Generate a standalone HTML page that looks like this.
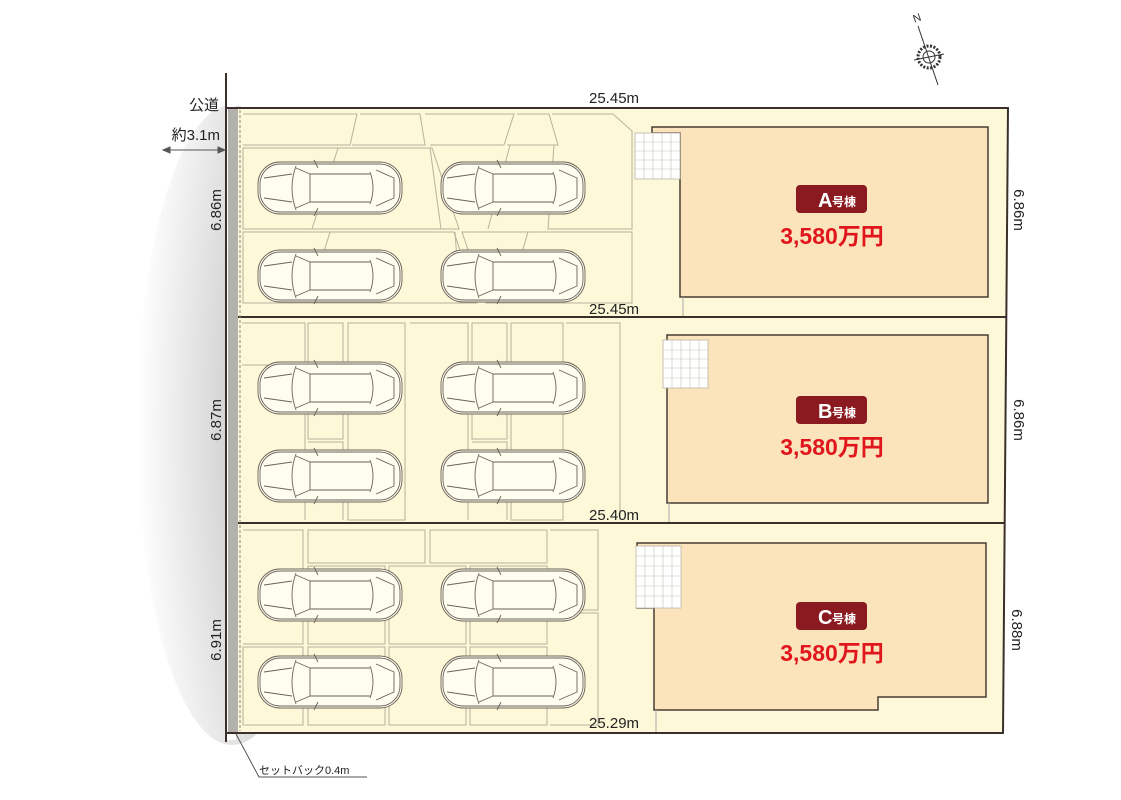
<!DOCTYPE html>
<html><head><meta charset="utf-8"><style>
html,body{margin:0;padding:0;background:#fff;}
svg{display:block;}
text{font-family:"Liberation Sans","Noto Sans CJK JP",sans-serif;}
</style></head><body>
<svg width="1121" height="800" viewBox="0 0 1121 800" xmlns="http://www.w3.org/2000/svg">
<defs>
<radialGradient id="sh" cx="1" cy="0.5" r="1" fx="1" fy="0.5">
<stop offset="0" stop-color="#a9a9a9"/><stop offset="0.55" stop-color="#d6d6d6"/><stop offset="1" stop-color="#ffffff"/>
</radialGradient>
<g id="car" fill="none" stroke="#6b6358" stroke-width="0.9">
<rect x="0" y="0" width="144" height="52" rx="22" fill="#fffdf0"/>
<rect x="2" y="2" width="140" height="48" rx="20"/>
<path d="M38 4 Q30 26 38 48"/>
<path d="M38 6 L52 12 L52 40 L38 46"/>
<path d="M52 12 L112 12 M52 40 L112 40"/>
<path d="M112 10 Q118 26 112 42"/>
<path d="M118 8 L136 16 L136 36 L118 44"/>
<path d="M6 16 L34 12 M6 36 L34 40"/>
<path d="M56 -2 L60 6 M56 54 L60 46"/>
</g>
</defs>
<rect width="1121" height="800" fill="#fff"/>
<ellipse cx="232" cy="425" rx="95" ry="320" fill="url(#sh)"/>
<rect x="226" y="100" width="10" height="640" fill="#fff"/>
<polygon points="236,108 1008,108 1003,733 236,733" fill="#fdf8d8" stroke="#3a2f2a" stroke-width="2"/>
<line x1="228" y1="317" x2="1006" y2="317" stroke="#3a2f2a" stroke-width="2"/>
<line x1="228" y1="523" x2="1005" y2="523" stroke="#3a2f2a" stroke-width="2"/>
<rect x="228" y="108" width="10" height="625" fill="#b3b1ac"/>
<line x1="240" y1="110" x2="240" y2="731" stroke="#8a857c" stroke-width="1" stroke-dasharray="3,2"/>
<line x1="226" y1="73" x2="226" y2="742" stroke="#3a2f2a" stroke-width="2"/>
<line x1="226" y1="108" x2="1008" y2="108" stroke="#3a2f2a" stroke-width="2"/>
<line x1="226" y1="733" x2="1003" y2="733" stroke="#3a2f2a" stroke-width="2"/>
<g fill="none" stroke="#b8b29c" stroke-width="1">
<path d="M243 114 H357 L350 145 H243 M360 114 H420 L425 145 H352 M425 114 H514 L504 145 H430 M517 114 H549 L558 145 H507 M552 114 H613 L632 131 V229 H548 L554 145"/>
<path d="M243 148 H432 L459 229 H243 Z M243 232 H454 L477 303 H243 Z M462 232 H632 V303 H486 Z"/>
<path d="M330 232 L308 303 M338 148 L312 229 M510 145 L488 229 M528 232 L507 303 M455 232 L460 303 M430 148 L441 229"/>
</g>
<g fill="none" stroke="#b8b29c" stroke-width="1">
<path d="M242 323 H305 V520 M308 323 H343 V439 H308 Z M348 323 H405 V520 H348 Z M410 323 H468 V520 M472 323 H507 V439 H472 Z M511 323 H563 V520 H511 Z M566 323 H620 V520"/>
<path d="M308 442 H343 V520 M472 442 H507 V520 M242 365 H300"/>
</g>
<g fill="none" stroke="#b8b29c" stroke-width="1">
<path d="M243 530 H303 V644 H243 M308 530 H425 V563 H308 Z M430 530 H547 V563 H430 Z M550 530 H598 V610 H550 M550 613 H598 V725 H550"/>
<path d="M308 566 H385 V644 H308 Z M389 566 H466 V644 H389 Z M470 566 H547 V644 H470 Z"/>
<path d="M243 647 H303 V725 H243 Z M308 647 H385 V725 H308 Z M389 647 H466 V725 H389 Z M470 647 H547 V725 H470 Z"/>
</g>
<use href="#car" x="258" y="162"/><use href="#car" x="441" y="162"/>
<use href="#car" x="258" y="250"/><use href="#car" x="441" y="250"/>
<use href="#car" x="258" y="362"/><use href="#car" x="441" y="362"/>
<use href="#car" x="258" y="450"/><use href="#car" x="441" y="450"/>
<use href="#car" x="258" y="569"/><use href="#car" x="441" y="569"/>
<use href="#car" x="258" y="656"/><use href="#car" x="441" y="656"/>
<g stroke="#4a3d34" stroke-width="1.5" fill="#fbe4bb">
<polygon points="652,127 988,127 988,297 680,297 680,133 652,133"/>
<polygon points="667,335 988,335 988,503 667,503"/>
<polygon points="637,543 986,543 986,697 878,697 878,710 654,710 654,608 637,608"/>
</g>
<g stroke="#b9b4a8" stroke-width="0.8" fill="#fff">
<rect x="635" y="133" width="45" height="46"/>
<rect x="663" y="340" width="45" height="48"/>
<rect x="636" y="546" width="45" height="62"/>
</g>
<g stroke="#c8c2b4" stroke-width="0.6">
<path d="M644 133V179M653 133V179M662 133V179M671 133V179M635 142H680M635 151H680M635 160H680M635 169H680"/>
<path d="M672 340V388M681 340V388M690 340V388M699 340V388M663 350H708M663 359H708M663 368H708M663 378H708"/>
<path d="M645 546V608M654 546V608M663 546V608M672 546V608M636 556H681M636 566H681M636 576H681M636 586H681M636 596H681"/>
</g>
<g stroke="#aaa" stroke-width="1"><line x1="683" y1="297" x2="683" y2="316"/><line x1="669" y1="503" x2="669" y2="522"/><line x1="656" y1="710" x2="656" y2="732"/></g>
<g font-weight="bold">
<rect x="796" y="185" width="71" height="28" rx="4" fill="#8b1a20"/>
<text x="818" y="207" font-size="20" fill="#fff">A</text><text x="832" y="206" font-size="12" fill="#fff">号棟</text>
<text x="832" y="244" font-size="23" fill="#e0161c" text-anchor="middle">3,580万円</text>
<rect x="796" y="396" width="71" height="28" rx="4" fill="#8b1a20"/>
<text x="818" y="418" font-size="20" fill="#fff">B</text><text x="832" y="417" font-size="12" fill="#fff">号棟</text>
<text x="832" y="455" font-size="23" fill="#e0161c" text-anchor="middle">3,580万円</text>
<rect x="796" y="602" width="71" height="28" rx="4" fill="#8b1a20"/>
<text x="818" y="624" font-size="20" fill="#fff">C</text><text x="832" y="623" font-size="12" fill="#fff">号棟</text>
<text x="832" y="661" font-size="23" fill="#e0161c" text-anchor="middle">3,580万円</text>
</g>
<g font-size="15" fill="#222">
<text x="589" y="103">25.45m</text>
<text x="589" y="314">25.45m</text>
<text x="589" y="520">25.40m</text>
<text x="589" y="728">25.29m</text>
<text x="219" y="110" text-anchor="end">公道</text>
<text x="220" y="140" text-anchor="end">約3.1m</text>
<text transform="translate(221,210) rotate(-90)" text-anchor="middle">6.86m</text>
<text transform="translate(221,420) rotate(-90)" text-anchor="middle">6.87m</text>
<text transform="translate(221,640) rotate(-90)" text-anchor="middle">6.91m</text>
<text transform="translate(1014,210) rotate(90)" text-anchor="middle">6.86m</text>
<text transform="translate(1014,420) rotate(90)" text-anchor="middle">6.86m</text>
<text transform="translate(1012,630) rotate(90)" text-anchor="middle">6.88m</text>
<text x="259" y="774" font-size="11">セットバック0.4m</text>
</g>
<g stroke="#555" stroke-width="1" fill="#555">
<line x1="166" y1="150" x2="222" y2="150"/>
<polygon points="163,150 170,147 170,153"/><polygon points="225,150 218,147 218,153"/>
<polyline points="236,734 259,777 367,777" fill="none"/>
</g>
<g stroke="#333" fill="none" stroke-width="1">
<text x="913" y="22" font-size="11" fill="#333" stroke="none" transform="rotate(-20 916 18)">N</text>
<line x1="918" y1="26" x2="938" y2="85"/>
<circle cx="929" cy="57" r="11" stroke-width="3" stroke-dasharray="2,1.5"/>
<circle cx="929" cy="57" r="6"/>
<line x1="914" y1="60" x2="944" y2="54"/>
</g>
</svg>
</body></html>
